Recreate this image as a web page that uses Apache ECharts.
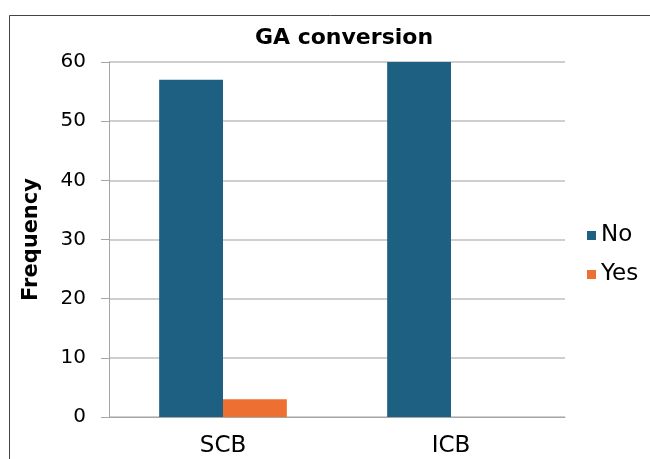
<!DOCTYPE html>
<html>
<head>
<meta charset="utf-8">
<script src="https://cdn.jsdelivr.net/npm/echarts@6/dist/echarts.min.js"></script>
<style>
  html, body { margin: 0; padding: 0; background: #fff; }
  #chart { width: 650px; height: 459px; }
</style>
</head>
<body>
<div id="chart"></div>
<script>
// Chart data
const categories = ['SCB', 'ICB'];
const noValues = [57, 60];
const yesValues = [3, 0];
const yTicks = { min: 0, max: 60, interval: 10 };

const chart = echarts.init(document.getElementById('chart'), null, { renderer: 'canvas' });
const font = 'DejaVu Sans, Arial, sans-serif';

chart.setOption({
  animation: false,
  backgroundColor: '#fff',
  textStyle: { fontFamily: font },
  title: {
    text: 'GA conversion',
    left: 339, top: 22, textAlign: 'center',
    textStyle: { fontSize: 22, fontWeight: 'bold', color: '#000', fontFamily: font }
  },
  legend: {
    orient: 'vertical',
    left: 582, top: 219,
    itemWidth: 9, itemHeight: 9, itemGap: 16,
    icon: 'rect',
    textStyle: { fontSize: 23, color: '#000', fontFamily: font, padding: [0, 0, 0, 0] },
    data: ['No', 'Yes']
  },
  grid: { left: 109, right: 85, top: 62, bottom: 42 },
  xAxis: {
    type: 'category',
    data: categories,
    axisLine: { lineStyle: { color: '#a6a6a6', width: 1 } },
    axisTick: { show: false },
    axisLabel: { fontSize: 23, color: '#000', margin: 18, fontFamily: font }
  },
  yAxis: {
    type: 'value',
    min: yTicks.min, max: yTicks.max, interval: yTicks.interval,
    name: 'Frequency',
    nameLocation: 'middle',
    nameGap: 67,
    nameTextStyle: { fontSize: 21, fontWeight: 'bold', color: '#000', fontFamily: font },
    axisLine: { show: true, lineStyle: { color: '#a6a6a6', width: 1 } },
    axisTick: { show: true, length: 8, lineStyle: { color: '#a6a6a6' } },
    axisLabel: { fontSize: 20, color: '#000', margin: 23, fontFamily: font },
    splitLine: { lineStyle: { color: '#bfbfbf', width: 1.5 } }
  },
  series: [
    {
      name: 'No', type: 'bar', data: noValues,
      itemStyle: { color: '#1d6082' },
      barGap: '0%', barCategoryGap: '44%'
    },
    {
      name: 'Yes', type: 'bar', data: yesValues,
      itemStyle: { color: '#ed7032' },
      barGap: '0%', barCategoryGap: '44%'
    }
  ],
  graphic: [{
    type: 'rect',
    shape: { x: 9.5, y: 15.5, width: 700, height: 500 },
    style: { fill: 'none', stroke: '#444', lineWidth: 1 },
    silent: true
  }]
});
</script>
</body>
</html>
